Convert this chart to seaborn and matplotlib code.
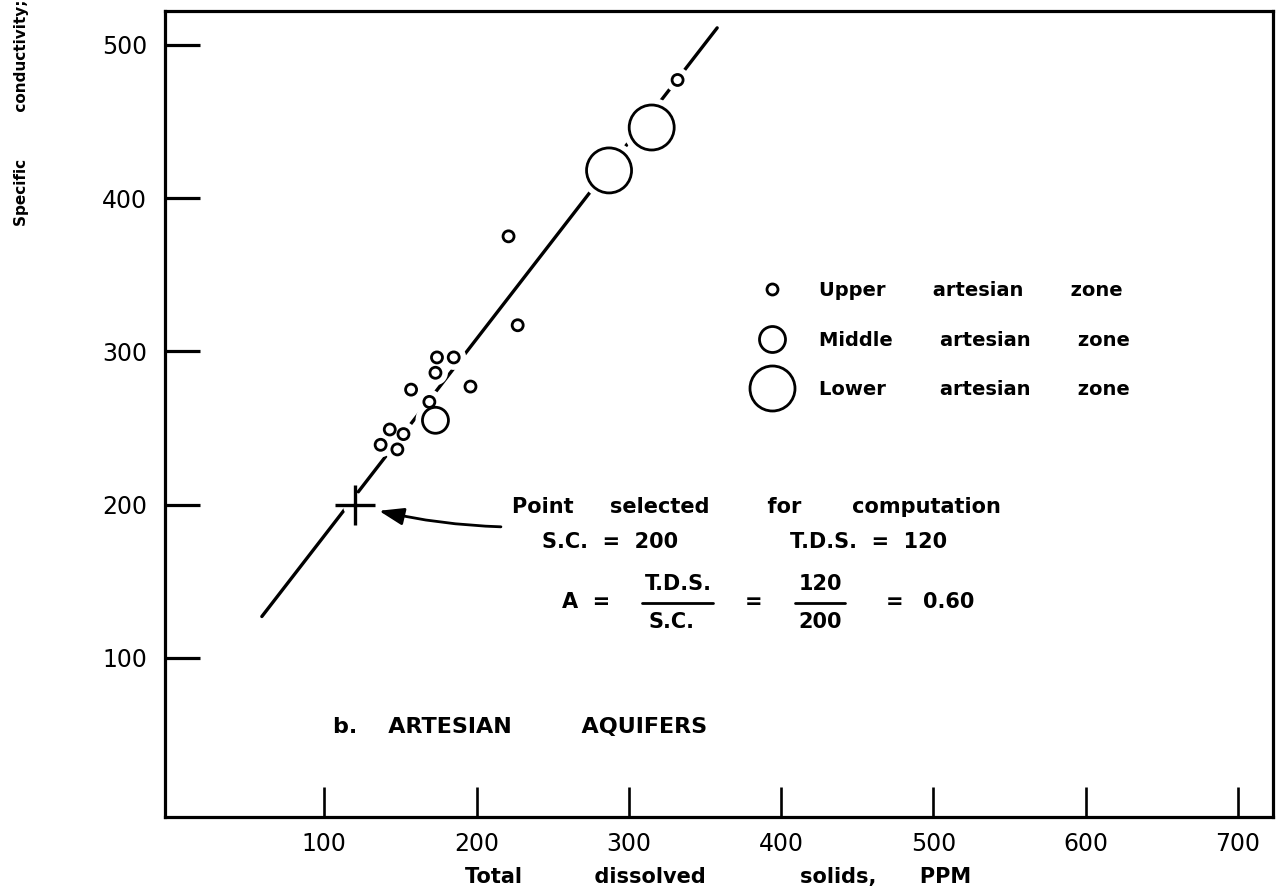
import matplotlib
matplotlib.use("Agg")
import matplotlib.pyplot as plt
import seaborn as sns
import pandas as pd
import numpy as np
from matplotlib.lines import Line2D

# ---------------- data ----------------
upper_tds = [174, 185, 173, 157, 196, 169, 143, 152, 137, 148, 221, 227, 332]
upper_sc = [296, 296, 286, 275, 277, 267, 249, 246, 239, 236, 375, 317, 477]
middle_tds = [173]
middle_sc = [255]
lower_tds = [287, 315]
lower_sc = [418, 446]

line_tds = [59, 358]
line_sc = [127, 511]

sel_tds = 120
sel_sc = 200

x_ticks = [100, 200, 300, 400, 500, 600, 700]
y_ticks = [100, 200, 300, 400, 500]

zones = ["Upper", "Middle", "Lower"]
zone_labels = ["Upper       artesian       zone",
               "Middle       artesian       zone",
               "Lower        artesian       zone"]
zone_area = {"Upper": 63, "Middle": 350, "Lower": 1050}

# ---------------- figure ----------------
W, H = 1286, 896
sns.set_style("white")
plt.rcParams["font.family"] = ["DejaVu Sans"]

fig = plt.figure(figsize=(W / 100, H / 100), dpi=100)
L, R, T, B = 165, 1273, 11, 817
ax = fig.add_axes([L / W, 1 - B / H, (R - L) / W, (B - T) / H])

df = pd.DataFrame({
    "tds": upper_tds + middle_tds + lower_tds,
    "sc": upper_sc + middle_sc + lower_sc,
    "zone": ["Upper"] * len(upper_tds) + ["Middle"] * len(middle_tds) + ["Lower"] * len(lower_tds),
})

# regression line
sns.lineplot(x=line_tds, y=line_sc, ax=ax, color="black", linewidth=2.4, zorder=2)

# white halos to create gaps in the line around the circles
halo_area = {k: (np.sqrt(v) + 10) ** 2 for k, v in zone_area.items()}
sns.scatterplot(data=df, x="tds", y="sc", size="zone", sizes=halo_area,
                color="white", edgecolor="white", linewidth=0, legend=False,
                ax=ax, zorder=3)
sns.scatterplot(data=df, x="tds", y="sc", size="zone", sizes=zone_area,
                color="white", edgecolor="black", linewidth=2.0, legend=False,
                ax=ax, zorder=4)

# selected point: cross with a gap in the line
ax.plot([sel_tds], [sel_sc], marker="o", ms=17, color="white", ls="", zorder=3)
ax.plot([sel_tds], [sel_sc], marker="+", ms=29, mew=2.4, color="black", ls="", zorder=5)

# arrow pointing at the selected point
ax.annotate("", xy=(sel_tds, sel_sc), xytext=(216, 185.5),
            arrowprops=dict(arrowstyle="-|>,head_length=1.0,head_width=0.35",
                            mutation_scale=15, color="black", lw=2.0,
                            shrinkA=0, shrinkB=18,
                            connectionstyle="arc3,rad=-0.06"),
            zorder=5)

# axes styling
ax.set_xlim(-4.6, 723)
ax.set_ylim(-3.8, 522)
ax.set_xticks(x_ticks)
ax.set_xticklabels([str(t) for t in x_ticks])
ax.set_yticks(y_ticks)
ax.set_yticklabels([str(t) for t in y_ticks])
ax.set_xlabel("")
ax.set_ylabel("")
for s in ax.spines.values():
    s.set_visible(True)
    s.set_linewidth(2.3)
    s.set_color("black")
ax.tick_params(axis="y", direction="in", length=25, width=2.3, pad=13,
               labelsize=17, colors="black", left=True)
ax.tick_params(axis="x", direction="in", length=21.5, width=1.9, pad=11,
               labelsize=17, colors="black", bottom=True)
ax.grid(False)

# legend
handles = [Line2D([], [], ls="", marker="o", ms=np.sqrt(zone_area[z]),
                  mfc="white", mec="black", mew=2.0) for z in zones]
leg = ax.legend(handles, zone_labels, loc="center left",
                bbox_to_anchor=(752.6 / W, 1 - 340 / H), bbox_transform=fig.transFigure,
                frameon=False, prop={"size": 14, "weight": "bold"},
                handlelength=2, handletextpad=1.41,
                labelspacing=1.56, borderpad=0, borderaxespad=0)
for t in leg.get_texts():
    t.set_color("black")


def ftext(px, py, s, **kw):
    kw.setdefault("va", "center")
    kw.setdefault("fontsize", 15)
    kw.setdefault("fontweight", "bold")
    kw.setdefault("color", "black")
    fig.text(px / W, 1 - py / H, s, **kw)


def fbar(x1, x2, y):
    fig.add_artist(Line2D([x1 / W, x2 / W], [1 - y / H, 1 - y / H],
                          transform=fig.transFigure, color="black", lw=2.0))


# annotation text
ftext(512, 507, "Point     selected        for       computation", ha="left")
ftext(542, 542, "S.C.  =  200", ha="left")
ftext(790, 542, "T.D.S.  =  120", ha="left")
ftext(562, 602, "A  =", ha="left")
ftext(678, 584, "T.D.S.", ha="center")
fbar(642, 713, 603)
ftext(672, 622, "S.C.", ha="center")
ftext(754, 602, "=", ha="center")
ftext(820, 584, "120", ha="center")
fbar(795, 845, 603)
ftext(820, 622, "200", ha="center")
ftext(895, 602, "=", ha="center")
ftext(923, 602, "0.60", ha="left")

ftext(333, 727, "b.    ARTESIAN         AQUIFERS", ha="left", fontsize=16)

# axis titles
ftext(465, 877, "Total          dissolved             solids,      PPM", ha="left",
      fontsize=15)
ftext(22, 113, "Specific         conductivity;", ha="center", rotation=90,
      fontsize=11)

fig.savefig("out.png", dpi=100)
